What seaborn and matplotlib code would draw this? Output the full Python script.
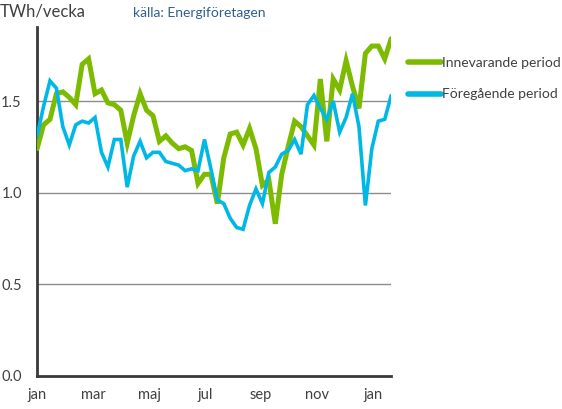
import numpy as np
import pandas as pd
import matplotlib
matplotlib.use("Agg")
import matplotlib.pyplot as plt
import seaborn as sns

# veckovärden, TWh/vecka
innevarande = [1.24, 1.37, 1.40, 1.54, 1.55, 1.52, 1.48, 1.70, 1.73, 1.54,
               1.56, 1.49, 1.48, 1.45, 1.27, 1.42, 1.54, 1.45, 1.42, 1.28,
               1.31, 1.27, 1.24, 1.25, 1.23, 1.05, 1.10, 1.10, 0.94, 1.19,
               1.32, 1.33, 1.26, 1.35, 1.24, 1.04, 1.07, 0.83, 1.10, 1.25,
               1.39, 1.36, 1.31, 1.26, 1.62, 1.28, 1.62, 1.56, 1.72, 1.58,
               1.46, 1.76, 1.80, 1.80, 1.73, 1.84]
foregaende = [1.31, 1.47, 1.61, 1.57, 1.36, 1.26, 1.37, 1.39, 1.38, 1.41,
              1.22, 1.14, 1.29, 1.29, 1.03, 1.20, 1.28, 1.19, 1.22, 1.22,
              1.17, 1.16, 1.15, 1.12, 1.13, 1.12, 1.29, 1.13, 0.96, 0.94,
              0.86, 0.81, 0.80, 0.93, 1.02, 0.94, 1.11, 1.14, 1.21, 1.23,
              1.29, 1.21, 1.48, 1.53, 1.46, 1.40, 1.50, 1.33, 1.41, 1.54,
              1.36, 0.93, 1.24, 1.39, 1.40, 1.53]
series_names = ["Innevarande period", "Föregående period"]
month_labels = ["jan", "mar", "maj", "jul", "sep", "nov", "jan"]
y_ticks = [0.0, 0.5, 1.0, 1.5]

weeks = np.arange(len(innevarande))
df = pd.DataFrame({
    "vecka": np.concatenate([weeks, weeks]),
    "TWh": innevarande + foregaende,
    "serie": [series_names[0]] * len(weeks) + [series_names[1]] * len(weeks),
})

sns.set_theme(style="white")
plt.rcParams["font.family"] = ["Lato", "DejaVu Sans"]
text_col = "#404040"

fig = plt.figure(figsize=(5.62, 4.09), dpi=100)
ax = fig.add_axes([0.066, 0.081, 0.63, 0.853])

for g in y_ticks[1:]:
    ax.axhline(g, color="#8c8c8c", lw=1.0, zorder=1)

sns.lineplot(data=df, x="vecka", y="TWh", hue="serie", ax=ax,
             palette={series_names[0]: "#7cbb00", series_names[1]: "#00b8e6"},
             hue_order=series_names, legend=True, zorder=3)
for line, w in zip(ax.get_lines()[3:], [3.6, 2.6]):
    line.set_linewidth(w)
    line.set_solid_joinstyle("miter")

ax.set_xlim(0, 55)
ax.set_ylim(0, 1.904)
ax.set_xticks(np.arange(7) * 52.2 / 6)
ax.set_xticklabels(month_labels)
ax.set_yticks(y_ticks)
ax.set_yticklabels([f"{v:.1f}" for v in y_ticks])
ax.tick_params(axis="x", labelsize=10.5, colors=text_col, length=0, pad=9)
ax.tick_params(axis="y", labelsize=10.5, colors=text_col, length=4, width=1, pad=7)
ax.set_xlabel("")
ax.set_ylabel("")

for s in ["top", "right"]:
    ax.spines[s].set_visible(False)
for s in ["left", "bottom"]:
    ax.spines[s].set_color("#3a3a3a")
    ax.spines[s].set_linewidth(2)

handles, labels = ax.get_legend_handles_labels()
leg = ax.legend(handles, labels, loc="upper left", bbox_to_anchor=(1.031, 0.93),
                frameon=False, fontsize=10, handlelength=2.4, handletextpad=0.1,
                labelspacing=1.4, borderaxespad=0)
for t in leg.get_texts():
    t.set_color(text_col)
for h in leg.get_lines():
    h.set_linewidth(4)

fig.text(0.0, 0.972, "TWh/vecka", fontsize=12, color=text_col, va="center", ha="left")
fig.text(0.236, 0.968, "källa: Energiföretagen", fontsize=10, color="#2f5f8f",
         va="center", ha="left")

fig.savefig("out.png", dpi=100)
